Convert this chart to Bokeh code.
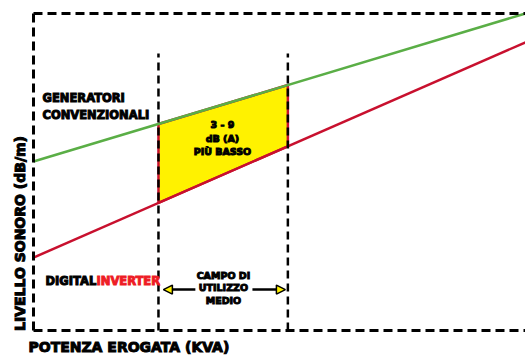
import numpy as np
from bokeh.plotting import figure
from bokeh.models import Range1d, Label, Arrow, NormalHead
from bokeh.embed import file_html
from bokeh.resources import INLINE

# ---- data (abstract units: power 0..100, sound level 0..100) ----
power = [0, 100]
level_conventional = [53.3, 100.0]   # GENERATORI CONVENZIONALI (green)
level_inverter = [23.0, 90.9]        # DIGITAL INVERTER (red)
usage_range = [25.4, 51.7]           # CAMPO DI UTILIZZO MEDIO bounds
usage_top = 87.4

label_conv = ["GENERATORI", "CONVENZIONALI"]
label_diff = ["3 - 9", "dB (A)", "PIÙ BASSO"]
label_campo = ["CAMPO DI", "UTILIZZO", "MEDIO"]
label_digital = ["DIGITAL", "INVERTER"]
y_title = "LIVELLO SONORO (dB/m)"
x_title = "POTENZA EROGATA (KVA)"

FONT = "DejaVu Sans"
GREEN = "#5aae46"
RED = "#c8102e"
BRIGHT_RED = "#ee1c25"
YELLOW = "#fff200"

p = figure(width=525, height=355, output_backend="svg", toolbar_location=None,
           x_range=Range1d(-6.707, 100.0), y_range=Range1d(-7.886, 104.10),
           x_axis_location=None, y_axis_location=None,
           min_border_left=0, min_border_right=0, min_border_top=0, min_border_bottom=0)
p.grid.visible = False
p.outline_line_color = None
p.background_fill_color = "white"

# yellow area between the two lines inside the usage range
g_at = np.interp(usage_range, power, level_conventional)
r_at = np.interp(usage_range, power, level_inverter)
p.patch([usage_range[0], usage_range[1], usage_range[1], usage_range[0]],
        [g_at[0], g_at[1], r_at[1], r_at[0]],
        fill_color=YELLOW, line_color=RED, line_width=2.5)

# lines
p.line(power, level_conventional, line_color=GREEN, line_width=2.5)
p.line(power, level_inverter, line_color=RED, line_width=2.5)

# dashed frame (left, top, bottom)
dash = dict(line_color="black", line_width=3, line_dash="9 5")
p.line([0, 0], [0, 100], **dash)
p.line([0, 100], [100, 100], **dash)
p.line([0, 100], [0, 0], **dash)
# dashed usage range bounds
for xb in usage_range:
    p.line([xb, xb], [0, usage_top], line_color="black", line_width=2.5, line_dash="8 5")

def lab(x, y, t, size, align="left", color="black", angle=0.0):
    p.add_layout(Label(x=x, y=y, text=t, text_font=FONT, text_font_style="bold",
                       text_font_size=size, text_align=align, text_baseline="middle",
                       text_color=color, text_outline_color=color, angle=angle))

lab(1.83, 73.5, label_conv[0], "11.5px")
lab(1.83, 68.1, label_conv[1], "11.5px")

for t, y in zip(label_diff, [65.0, 60.6, 56.5]):
    lab(38.4, y, t, "9.5px", align="center")

for t, y in zip(label_campo, [17.4, 13.6, 9.5]):
    lab(38.6, y, t, "9.5px", align="center")

lab(2.44, 15.5, label_digital[0], "11.5px")
lab(12.8, 15.5, label_digital[1], "11.5px", color=BRIGHT_RED)

head = dict(size=9, fill_color=YELLOW, line_color="black", line_width=1.5)
p.add_layout(Arrow(end=NormalHead(**head), x_start=32.9, y_start=12.9, x_end=26.4, y_end=12.9,
                   line_color="black", line_width=2.5))
p.add_layout(Arrow(end=NormalHead(**head), x_start=44.5, y_start=12.9, x_end=51.2, y_end=12.9,
                   line_color="black", line_width=2.5))

lab(-2.74, 30.6, y_title, "14px", align="center", angle=np.pi / 2)
lab(-1.02, -5.05, x_title, "14px")

open("out.html", "w").write(file_html(p, INLINE))
